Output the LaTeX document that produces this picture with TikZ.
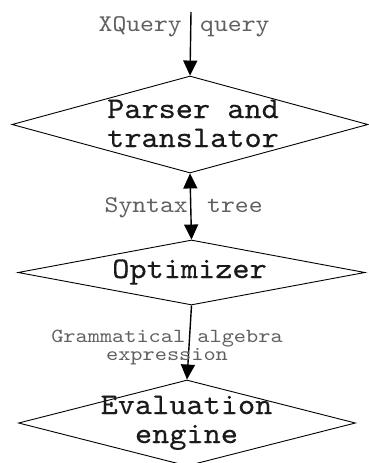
\documentclass[tikz,border=0pt]{standalone}
\usepackage{fontspec}
\usetikzlibrary{shapes.geometric,arrows.meta}
\newfontfamily\stagefont[FakeStretch=1.09,FakeBold=0.4]{lmmono10-regular.otf}
\newfontfamily\labelfont[FakeStretch=1.1]{lmmono10-regular.otf}
\newfontfamily\smallfont[FakeStretch=1.16]{lmmono10-regular.otf}
\definecolor{labelgray}{HTML}{606060}
\definecolor{boxtext}{HTML}{1A1A1A}
\tikzset{
  stage/.style={diamond, draw=black, line width=0.9pt, inner sep=0pt, aspect=1},
  stagetext/.style={inner sep=0pt, anchor=base, align=center, text=boxtext,
    font=\stagefont\fontsize{30}{29}\selectfont},
  flowlabel/.style={inner sep=0pt, text=labelgray,
    font=\labelfont\fontsize{24}{24}\selectfont},
  smalllabel/.style={inner sep=0pt, anchor=base, align=center, text=labelgray,
    font=\smallfont\fontsize{20}{18}\selectfont},
  flow/.style={line width=1.4pt, -{Triangle[width=14pt,length=15pt]}},
  flowboth/.style={line width=1.4pt, {Triangle[width=14pt,length=15pt]}-{Triangle[width=14pt,length=15pt]}}
}
\begin{document}
\begin{tikzpicture}[x=1pt,y=-1pt]
  \useasboundingbox (0,0) rectangle (369,463);

  % processing stages
  \node[stage, minimum width=356pt, minimum height=97pt] (parser) at (190,124.5) {};
  \node[stage, minimum width=347pt, minimum height=65pt] (optim) at (191.5,272.5) {};
  \node[stage, minimum width=337pt, minimum height=86pt] (eval) at (187,423) {};

  % stage names (base anchor sits on the last line)
  \node[stagetext] (parsertext) at (193,147) {Parser and\\translator};
  \node[stagetext] (optimtext) at (189.5,278) {Optimizer};
  \node[stagetext] (evaltext) at (186.5,443) {Evaluation\\engine};

  % incoming query
  \coordinate (input) at (191,12);
  \draw[flow] (input) -- (parser.north);
  \node[flowlabel, anchor=base east] (lblxq) at (182,31) {XQuery};
  \node[flowlabel, anchor=base west] (lblq) at (200,31) {query};

  % syntax tree exchange
  \draw[flowboth] (parser.south) -- (optim.north);
  \node[flowlabel, anchor=base east] (lblsyn) at (188,212) {Syntax};
  \node[flowlabel, anchor=base west] (lbltree) at (207,212) {tree};

  % algebra expression
  \draw[flow] (optim.south) -- (eval.north);
  \node[smalllabel] (lblalg) at (167,360) {Grammatical algebra\\expression};
\end{tikzpicture}
\end{document}
